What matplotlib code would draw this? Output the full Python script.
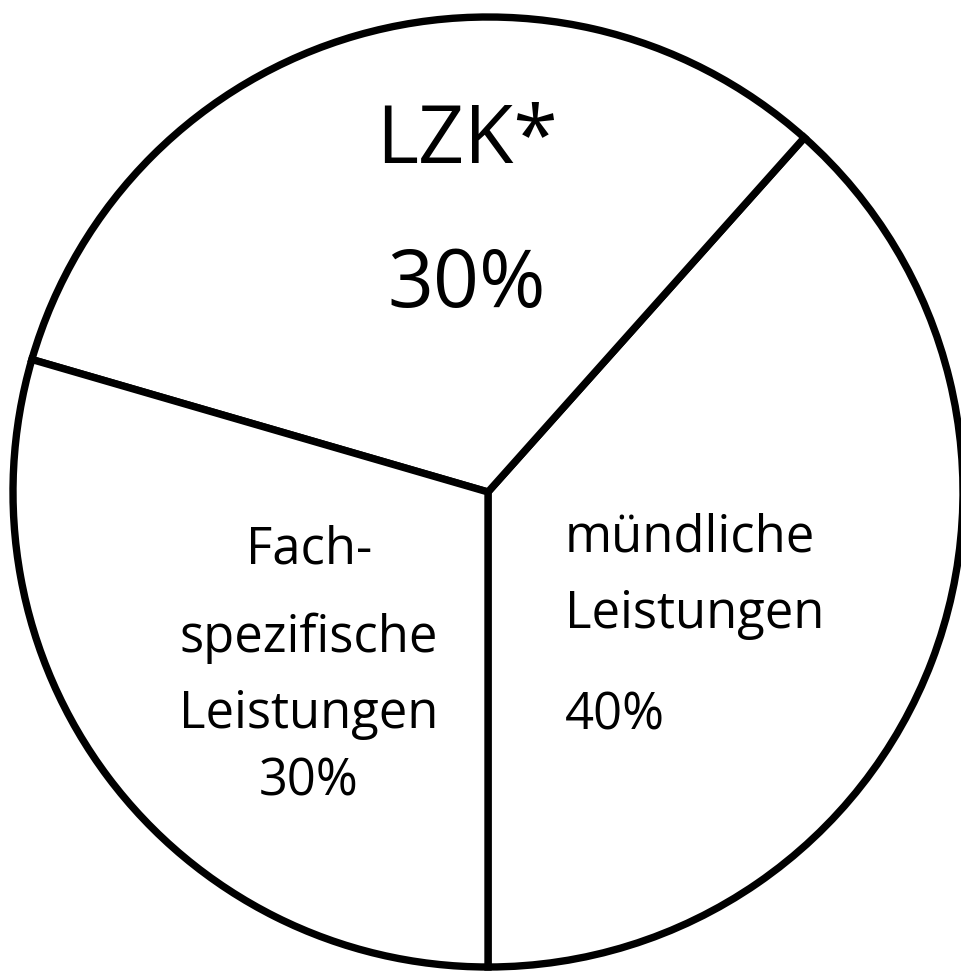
import matplotlib
matplotlib.use("Agg")
import matplotlib.pyplot as plt

# shares as drawn in the picture (the printed labels say 40 / 30 / 30)
segments = ["mündliche Leistungen", "LZK*", "Fachspezifische Leistungen"]
drawn_share = [38.4, 32.1, 29.5]

# label lines, one text per line
lzk_lines = ["LZK*", "30%"]
fach_lines = ["Fach-", "spezifische", "Leistungen", "30%"]
muendl_lines = ["mündliche", "Leistungen", "40%"]

W, H = 961, 972
fig = plt.figure(figsize=(W / 100, H / 100), dpi=100)
ax = fig.add_axes([0, 0, 1, 1])

ax.pie(drawn_share, startangle=270, counterclock=True,
       colors=["white"] * 3, radius=475, center=(488, H - 492),
       wedgeprops=dict(edgecolor="black", linewidth=5.3))
ax.set_xlim(0, W)
ax.set_ylim(0, H)
ax.set_aspect("auto")
ax.axis("off")

font = "Open Sans"

# big label at the top
for txt, base in zip(lzk_lines, [163, 307]):
    ax.text(467, H - base, txt, fontsize=58, family=font,
            ha="center", va="baseline")

# left block, centred
for txt, base in zip(fach_lines, [563, 652, 728, 795]):
    ax.text(309, H - base, txt, fontsize=36.5, family=font,
            ha="center", va="baseline")

# right block, left aligned
for txt, base in zip(muendl_lines, [552, 628, 730]):
    ax.text(565, H - base, txt, fontsize=36.5, family=font,
            ha="left", va="baseline")

fig.savefig("out.png", dpi=100, facecolor="white")
